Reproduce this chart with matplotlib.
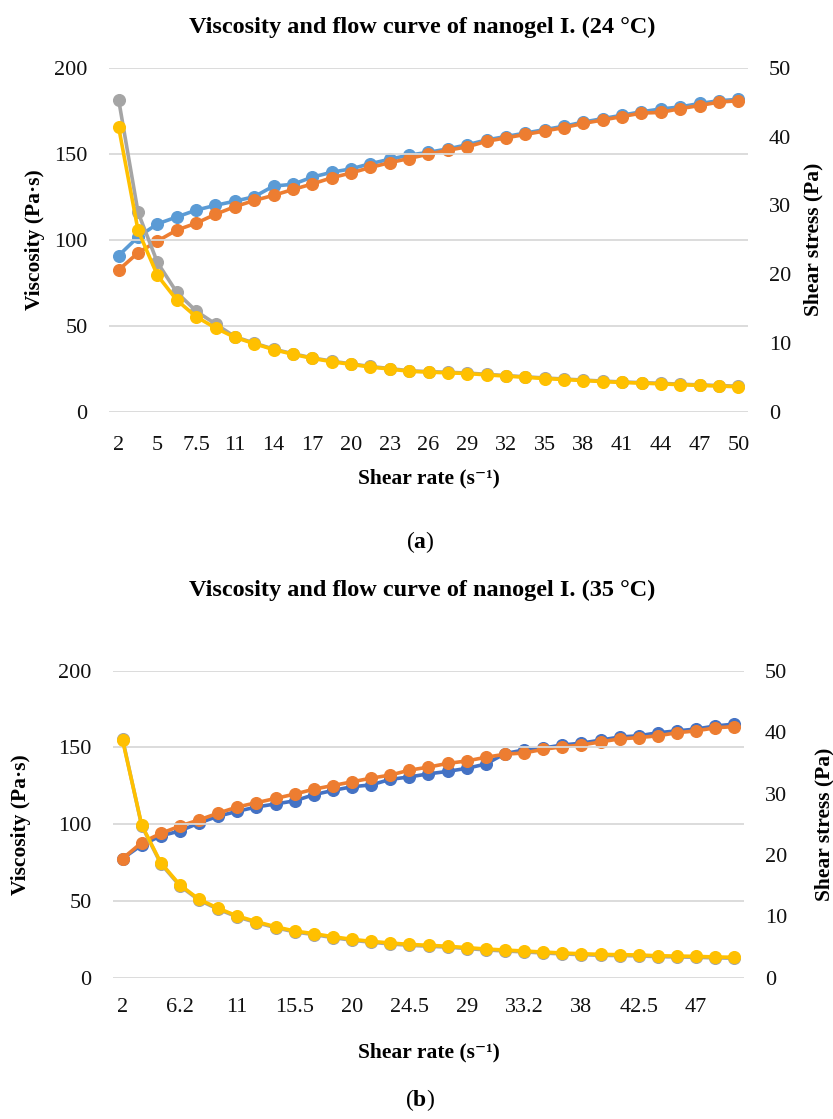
import matplotlib
matplotlib.use("Agg")
import matplotlib.pyplot as plt
import numpy as np

plt.rcParams['font.family'] = ['Liberation Serif', 'DejaVu Serif']
plt.rcParams['mathtext.fontset'] = 'custom'
plt.rcParams['mathtext.rm'] = 'Liberation Serif'
plt.rcParams['mathtext.bf'] = 'Liberation Serif:bold'

# ---------------- data (a) 24 °C ----------------
rate_a = ['2', '3.5', '5', '6.5', '7.5', '9.5', '11', '12.5', '14', '15.5', '17', '18.5',
          '20', '21.5', '23', '24.5', '26', '27.5', '29', '30.5', '32', '33.5', '35', '36.5',
          '38', '39.5', '41', '42.5', '44', '45.5', '47', '48.5', '50']
visc_gray_a = [181.2, 115.9, 86.8, 69.4, 58.5, 51.0, 43.6, 39.9, 36.4, 33.7, 31.3, 29.4,
               27.8, 26.3, 25.1, 23.8, 23.3, 22.9, 22.5, 21.7, 21.0, 20.3, 19.6, 19.0,
               18.4, 17.8, 17.3, 16.9, 16.5, 16.0, 15.6, 15.2, 14.8]
visc_yellow_a = [165.3, 105.4, 79.3, 64.9, 55.2, 48.7, 43.2, 39.6, 36.1, 33.4, 31.0, 29.1,
                 27.5, 26.0, 24.8, 23.5, 23.0, 22.6, 22.2, 21.4, 20.7, 20.0, 19.3, 18.7,
                 18.1, 17.5, 17.0, 16.6, 16.2, 15.7, 15.3, 14.9, 14.5]
stress_blue_a = [22.7, 25.4, 27.3, 28.3, 29.3, 30.0, 30.6, 31.25, 32.8, 33.05, 34.1, 34.8,
                 35.3, 36.05, 36.7, 37.3, 37.7, 38.2, 38.8, 39.5, 40.0, 40.5, 41.0, 41.5,
                 42.1, 42.6, 43.1, 43.6, 44.0, 44.3, 44.8, 45.2, 45.4]
stress_orange_a = [20.6, 23.1, 24.8, 26.4, 27.4, 28.7, 29.8, 30.7, 31.45, 32.3, 33.1, 34.0,
                   34.7, 35.5, 36.2, 36.8, 37.45, 38.0, 38.5, 39.3, 39.8, 40.3, 40.8, 41.3,
                   41.9, 42.4, 42.9, 43.4, 43.5, 44.05, 44.5, 45.0, 45.2]

# ---------------- data (b) 35 °C ----------------
rate_b = ['2', '3.5', '5', '6.2', '8', '9.5', '11', '12.5', '14', '15.5', '17', '18.5',
          '20', '21.5', '23', '24.5', '26', '27.5', '29', '30.5', '32', '33.2', '35', '36.5',
          '38', '39.5', '41', '42.5', '44', '45.5', '47', '48.5', '50']
visc_yellow_b = [154.8, 99.5, 74.9, 60.4, 51.1, 45.2, 40.2, 36.5, 33.2, 30.4, 28.7, 26.7,
                 25.0, 23.7, 22.6, 21.7, 21.1, 20.5, 19.6, 18.7, 18.0, 17.4, 16.7, 16.1,
                 15.6, 15.2, 15.0, 14.8, 14.3, 14.1, 13.9, 13.5, 13.3]
visc_gray_b = [155.6, 99.0, 74.3, 59.8, 50.5, 44.6, 39.6, 35.9, 32.6, 29.8, 28.1, 26.1,
               24.4, 23.1, 22.0, 21.1, 20.5, 19.9, 19.0, 18.1, 17.4, 16.8, 16.1, 15.5,
               15.0, 14.6, 14.4, 14.2, 13.7, 13.5, 13.3, 12.9, 12.7]
stress_blue_b = [19.4, 21.6, 23.1, 23.9, 25.2, 26.3, 27.1, 27.8, 28.3, 28.8, 29.8, 30.5,
                 31.1, 31.4, 32.3, 32.7, 33.2, 33.6, 34.1, 34.8, 36.5, 37.1, 37.4, 37.9,
                 38.2, 38.7, 39.2, 39.4, 39.9, 40.2, 40.5, 41.0, 41.3]
stress_orange_b = [19.4, 22.0, 23.5, 24.7, 25.7, 26.8, 27.8, 28.5, 29.2, 29.9, 30.7, 31.3,
                   31.9, 32.5, 33.0, 33.8, 34.3, 34.9, 35.3, 35.9, 36.4, 36.6, 37.2, 37.6,
                   37.9, 38.4, 38.9, 39.1, 39.4, 39.9, 40.2, 40.7, 40.9]

visc_ticks = [0, 50, 100, 150, 200]
stress_ticks = [0, 10, 20, 30, 40, 50]

W, H = 833, 1119
fig = plt.figure(figsize=(W / 100, H / 100), dpi=100)
fig.patch.set_facecolor('white')

GRID = '#D9D9D9'
GRAY = '#A5A5A5'
YELLOW = '#FFC000'
ORANGE = '#ED7D31'
LW = 2.6
MS = 8.4
TICK_FS = 16
LAB_FS = 15.5


def px_axes(l, t, r, b):
    return fig.add_axes([l / W, 1 - b / H, (r - l) / W, (b - t) / H])


def panel(box, rates, g, y, bl, o, blue_color, step, title, title_y, xlab_y, cap, cap_y,
          ylab_lx, ylab_rx, xpad):
    l, t, r, b = box
    ax = px_axes(l, t, r, b)
    ax2 = ax.twinx()
    x = np.arange(len(rates))
    ax2.plot(x, bl, color=blue_color, lw=LW, marker='o', ms=MS, zorder=2)
    ax2.plot(x, o, color=ORANGE, lw=LW, marker='o', ms=MS, zorder=3)
    ax.plot(x, g, color=GRAY, lw=LW, marker='o', ms=MS, zorder=2)
    ax.plot(x, y, color=YELLOW, lw=LW, marker='o', ms=MS, zorder=3)
    ax.set_zorder(ax2.get_zorder() + 1)
    ax.patch.set_visible(False)
    ax.set_xlim(-0.5, len(rates) - 0.5)
    ax.set_ylim(0, 200)
    ax2.set_ylim(0, 50)
    ax.set_yticks(visc_ticks)
    ax2.set_yticks(stress_ticks)
    ax.set_xticks(x[::step])
    ax.set_xticklabels([rates[i] for i in x[::step]])
    ax.grid(axis='y', color=GRID, lw=1.3, zorder=0)
    ax.set_axisbelow(True)
    for a in (ax, ax2):
        for s in a.spines.values():
            s.set_visible(False)
    ax.tick_params(axis='both', length=0, labelsize=TICK_FS, colors='#111111')
    ax.tick_params(axis='x', pad=xpad)
    ax.tick_params(axis='y', pad=15.5)
    ax2.tick_params(axis='y', length=0, labelsize=TICK_FS, colors='#111111', pad=15)
    cy = (t + b) / 2
    fig.text(ylab_lx / W, 1 - cy / H, 'Viscosity (Pa·s)', rotation=90, ha='center',
             va='center', fontsize=LAB_FS, fontweight='bold')
    fig.text(ylab_rx / W, 1 - cy / H, 'Shear stress (Pa)', rotation=90, ha='center',
             va='center', fontsize=LAB_FS, fontweight='bold')
    fig.text(422 / W, 1 - title_y / H, title, ha='center', va='center', fontsize=17.5,
             fontweight='bold')
    fig.text((l + r) / 2 / W, 1 - xlab_y / H, 'Shear rate (s⁻¹)',
             ha='center', va='center', fontsize=LAB_FS, fontweight='bold')
    fig.text(420 / W, 1 - cap_y / H, r'($\mathbf{' + cap + '}$)', ha='center',
             va='center', fontsize=17)


panel((109, 67.7, 748, 411.7), rate_a, visc_gray_a, visc_yellow_a, stress_blue_a,
      stress_orange_a, '#5B9BD5', 2, 'Viscosity and flow curve of nanogel I. (24 °C)', 27,
      478, 'a', 542, 35, 813, 17.5)
panel((113, 670.7, 744, 977.7), rate_b, visc_gray_b, visc_yellow_b, stress_blue_b,
      stress_orange_b, '#4472C4', 3, 'Viscosity and flow curve of nanogel I. (35 °C)', 590,
      1052, 'b', 1100, 21, 824, 14.5)

fig.savefig('out.png', dpi=100, facecolor='white')
